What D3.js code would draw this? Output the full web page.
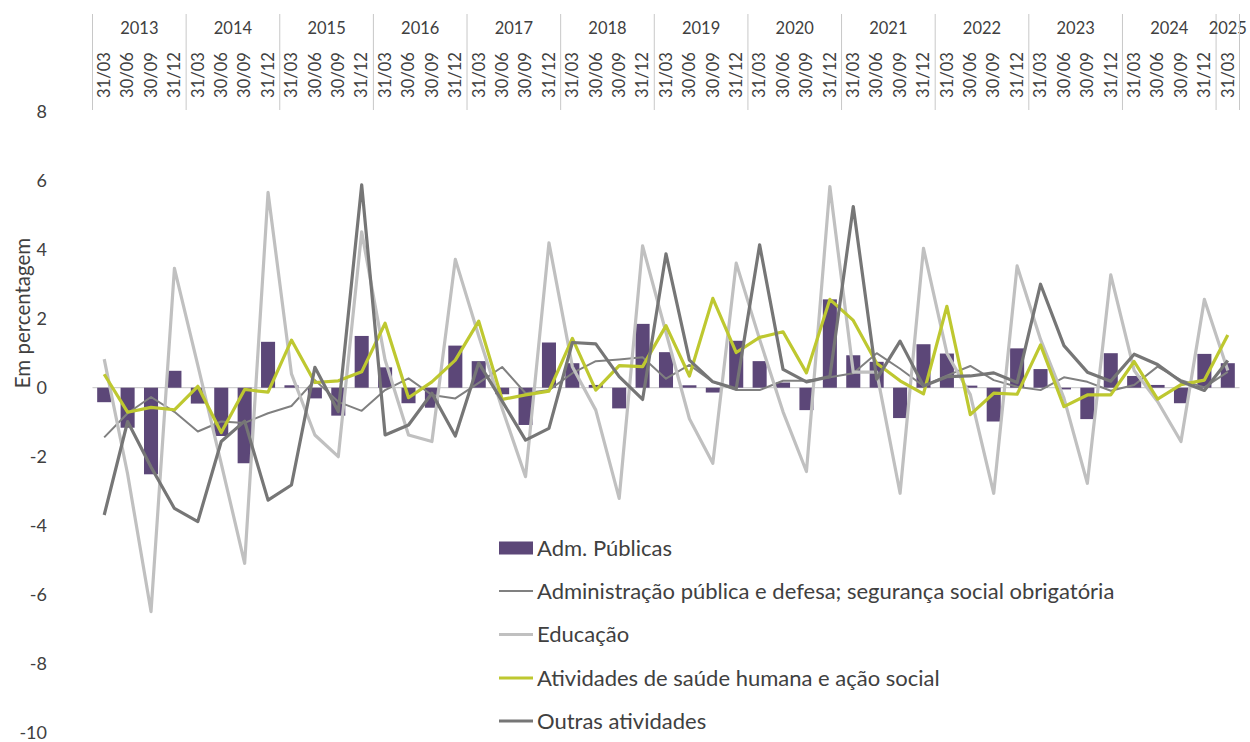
<!DOCTYPE html>
<html><head><meta charset="utf-8">
<script src="https://cdn.jsdelivr.net/npm/d3@7"></script>
<style>body{margin:0;background:#fff}svg{display:block}text{font-family:Lato,"Noto Sans",sans-serif;fill:#404040}</style>
</head><body><svg id="c" width="1250" height="742"></svg>
<script>
const years = ["2013","2014","2015","2016","2017","2018","2019","2020","2021","2022","2023","2024","2025"];
const quarterLabels = ["31/03","30/06","30/09","31/12"];
const categories = [];
years.forEach(y => quarterLabels.forEach(q => { if (!(y === "2025" && q !== "31/03")) categories.push(q + "/" + y); }));

const admPublicas = [-0.42,-1.16,-2.51,0.49,-0.46,-1.40,-2.19,1.33,0.07,-0.31,-0.81,1.50,0.59,-0.45,-0.58,1.22,0.77,-0.19,-1.08,1.31,0.71,0.08,-0.60,1.85,1.03,0.07,-0.14,1.36,0.77,0.15,-0.65,2.56,0.94,0.75,-0.88,1.26,0.99,0.06,-0.98,1.14,0.54,-0.05,-0.91,1.00,0.34,0.08,-0.45,0.98,0.71];
const administracao = [-1.44,-0.74,-0.27,-0.70,-1.27,-0.98,-1.02,-0.74,-0.53,0.22,-0.41,-0.67,-0.07,0.27,-0.21,-0.31,0.14,0.60,-0.16,-0.07,0.42,0.77,0.82,0.88,0.26,0.66,0.17,-0.07,-0.07,0.20,0.20,0.30,0.42,1.00,0.55,0.05,0.35,0.63,0.22,0.03,-0.07,0.30,0.17,-0.09,0.08,0.61,0.22,0.01,0.46];
const educacao = [0.83,-2.5,-6.49,3.46,0.65,-2.2,-5.09,5.66,0.4,-1.37,-2.0,4.52,0.8,-1.37,-1.56,3.72,1.5,-0.6,-2.58,4.2,0.61,-0.65,-3.21,4.11,1.6,-0.9,-2.19,3.61,1.4,-0.7,-2.43,5.83,0.45,0.45,-3.06,4.04,1.0,-0.2,-3.06,3.53,1.4,-0.3,-2.77,3.27,0.5,-0.4,-1.56,2.56,0.5];
const saude = [0.39,-0.71,-0.57,-0.64,0.04,-1.30,-0.05,-0.13,1.38,0.15,0.20,0.46,1.87,-0.29,0.17,0.80,1.93,-0.34,-0.21,-0.10,1.43,-0.07,0.64,0.61,1.80,0.34,2.59,1.02,1.46,1.62,0.43,2.56,1.95,0.71,0.20,-0.18,2.36,-0.78,-0.16,-0.19,1.24,-0.55,-0.21,-0.21,0.76,-0.33,0.09,0.22,1.53];
const outras = [-3.69,-0.98,-2.3,-3.50,-3.88,-1.56,-0.97,-3.26,-2.82,0.59,-0.69,5.88,-1.37,-1.08,-0.16,-1.40,0.72,-0.39,-1.52,-1.18,1.31,1.27,0.32,-0.34,3.88,0.80,0.17,-0.03,4.14,0.53,0.17,0.32,5.25,0.25,1.35,0.05,0.32,0.34,0.43,0.15,3.0,1.22,0.45,0.19,0.97,0.67,0.18,-0.08,0.79];
const yTicks = [8,6,4,2,0,-2,-4,-6,-8,-10];

const seriesNames = ["Adm. Públicas","Administração pública e defesa; segurança social obrigatória","Educação","Atividades de saúde humana e ação social","Outras atividades"];
const lineSeries = [
  {name: seriesNames[1], values: administracao, color: "#808080", width: 2},
  {name: seriesNames[2], values: educacao, color: "#c0c0c0", width: 3.2},
  {name: seriesNames[3], values: saude, color: "#bec830", width: 3.2},
  {name: seriesNames[4], values: outras, color: "#767676", width: 3.2}
];
const barColor = "#5c4778";

const svg = d3.select("#c");
const x = d3.scaleBand().domain(d3.range(categories.length)).range([92.5, 1239.5]).paddingInner(0.4).paddingOuter(0.2);
const y = d3.scaleLinear().domain([-10, 8]).range([732.7, 111.7]);
const step = x.step();
const cx = i => x(i) + x.bandwidth() / 2;

// y tick labels
svg.append("g").selectAll("text").data(yTicks).join("text")
  .attr("x", 47).attr("y", d => y(d)).attr("dy", "0.35em")
  .attr("text-anchor", "end").attr("font-size", 18).text(d => d);

svg.append("text").attr("transform", "translate(23,313) rotate(-90)")
  .attr("text-anchor", "middle").attr("dy", "0.35em").attr("font-size", 20.5).text("Em percentagem");

// top category axis
const topAxis = svg.append("g");
const leftEdge = x.range()[0];
const yearStarts = years.map((yr, k) => ({yr, start: leftEdge + k * 4 * step, n: Math.min(4, categories.length - k * 4)}));
yearStarts.forEach(d => {
  topAxis.append("line").attr("x1", d.start).attr("x2", d.start).attr("y1", 14).attr("y2", 110)
    .attr("stroke", "#c8c8c8").attr("stroke-width", 1);
  topAxis.append("text").attr("x", d.start + d.n * step / 2).attr("y", 28).attr("dy", "0.35em")
    .attr("text-anchor", "middle").attr("font-size", 16.5).text(d.yr);
});
topAxis.append("line").attr("x1", x.range()[1]).attr("x2", x.range()[1]).attr("y1", 14).attr("y2", 110)
  .attr("stroke", "#c8c8c8");
topAxis.selectAll("text.q").data(categories).join("text").attr("class", "q")
  .attr("transform", (d, i) => `translate(${cx(i)},75) rotate(-90)`)
  .attr("text-anchor", "middle").attr("dy", "0.35em").attr("font-size", 16.5)
  .text(d => d.slice(0, 5));

// zero line
svg.append("line").attr("x1", leftEdge).attr("x2", x.range()[1]).attr("y1", y(0)).attr("y2", y(0))
  .attr("stroke", "#d0d0d0").attr("stroke-width", 1.3);

// bars
svg.append("g").selectAll("rect").data(admPublicas).join("rect")
  .attr("x", (d, i) => x(i)).attr("width", x.bandwidth())
  .attr("y", d => y(Math.max(0, d))).attr("height", d => Math.abs(y(d) - y(0)))
  .attr("fill", barColor);

// lines
const line = d3.line().x((d, i) => cx(i)).y(d => y(d));
lineSeries.forEach(s => {
  svg.append("path").datum(s.values).attr("d", line).attr("fill", "none")
    .attr("stroke", s.color).attr("stroke-width", s.width).attr("stroke-linejoin", "round");
});

// legend
const legendY = [548, 591, 634.5, 678, 721];
const lg = svg.append("g");
lg.append("rect").attr("x", 499).attr("y", legendY[0] - 6.5).attr("width", 34).attr("height", 13).attr("fill", barColor);
lineSeries.forEach((s, k) => {
  lg.append("line").attr("x1", 499).attr("x2", 533).attr("y1", legendY[k + 1]).attr("y2", legendY[k + 1])
    .attr("stroke", s.color).attr("stroke-width", s.width);
});
seriesNames.forEach((n, k) => {
  lg.append("text").attr("x", 537).attr("y", legendY[k]).attr("dy", "0.35em").attr("font-size", 22).text(n);
});
</script></body></html>
